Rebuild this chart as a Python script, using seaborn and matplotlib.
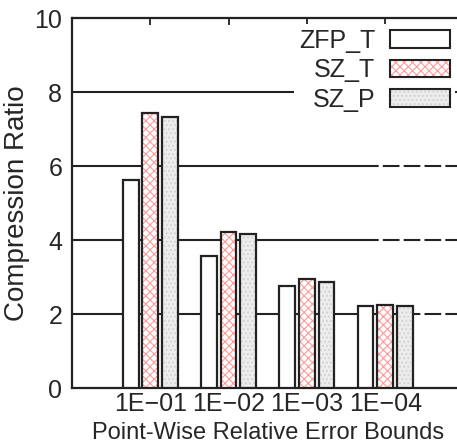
import matplotlib
matplotlib.use("Agg")
import matplotlib.pyplot as plt
from matplotlib.patches import Patch, Rectangle
import pandas as pd
import seaborn as sns

# Compression ratios per point-wise relative error bound
bounds = ["1E\u221201", "1E\u221202", "1E\u221203", "1E\u221204"]
methods = ["ZFP_T", "SZ_T", "SZ_P"]
zfp_t = [5.62, 3.58, 2.76, 2.21]
sz_t = [7.44, 4.21, 2.94, 2.25]
sz_p = [7.32, 4.15, 2.87, 2.21]
y_ticks = [0, 2, 4, 6, 8, 10]

df = pd.DataFrame({
    "bound": bounds * 3,
    "method": [m for m in methods for _ in bounds],
    "ratio": zfp_t + sz_t + sz_p,
})

sns.set_style("white")
plt.rcParams["font.family"] = ["Liberation Sans", "DejaVu Sans"]
plt.rcParams["hatch.linewidth"] = 0.8

fig = plt.figure(figsize=(4.57, 4.46), dpi=100)
ax = fig.add_axes([72 / 457, 58 / 446, 391.5 / 457, 370 / 446])

styles = {
    "ZFP_T": dict(fc="white", hatch=None, hc="white"),
    "SZ_T": dict(fc="white", hatch="xxxx", hc="#ff9a9a"),
    "SZ_P": dict(fc="#ececec", hatch="....", hc="#d0d0d0"),
}

sns.barplot(data=df, x="bound", y="ratio", hue="method", order=bounds,
            hue_order=methods, width=0.75, gap=0.2, ax=ax, legend=False,
            errorbar=None, zorder=3)

edge = "#222222"
for method, cont in zip(methods, ax.containers):
    st = styles[method]
    for bar in cont:
        bar.set_facecolor(st["fc"])
        bar.set_edgecolor(st["hc"])
        bar.set_linewidth(0)
        if st["hatch"]:
            bar.set_hatch(st["hatch"])
        ax.add_patch(Rectangle(bar.get_xy(), bar.get_width(), bar.get_height(),
                               fill=False, ec=edge, lw=1.6, zorder=4))

ax.set_xlim(-1, 4)
ax.set_ylim(0, 10)
ax.set_yticks(y_ticks)

# horizontal grid: solid on the left, dashed towards the right
split = 2.7
for y in y_ticks[1:-1]:
    ax.plot([-1, split], [y, y], color=edge, lw=1.5, zorder=1)
    ax.plot([split, 4], [y, y], color=edge, lw=1.5, ls=(0, (8, 2)), zorder=1)

for s in ["left", "bottom", "top"]:
    ax.spines[s].set_visible(True)
    ax.spines[s].set_color(edge)
    ax.spines[s].set_linewidth(1.6)
ax.spines["right"].set_visible(False)

ax.tick_params(axis="x", which="both", bottom=False, top=True, direction="in",
               length=5, width=1.3, color=edge, labelsize=18, pad=3)
ax.tick_params(axis="y", length=0, labelsize=18, pad=7)

ax.set_xlabel("Point-Wise Relative Error Bounds", fontsize=17, labelpad=4)
ax.set_ylabel("Compression Ratio", fontsize=20, labelpad=3)

handles = []
for method in methods:
    st = styles[method]
    fill = Patch(facecolor=st["fc"], edgecolor=st["hc"], lw=0,
                 hatch=st["hatch"])
    outline = Patch(fill=False, edgecolor=edge, lw=1.5)
    handles.append((fill, outline))
leg = ax.legend(handles, methods, loc="upper left",
                bbox_to_anchor=(222 / 391.5, 0.985), markerfirst=False,
                frameon=True, fancybox=False, edgecolor="none",
                facecolor="white", framealpha=1, fontsize=18,
                handlelength=2.4, handleheight=0.7, handletextpad=0.6,
                labelspacing=0.22, borderpad=0.2, borderaxespad=0)
for t in leg.get_texts():
    t.set_ha("right")
leg.set_zorder(5)

fig.savefig("out.png", dpi=100)
